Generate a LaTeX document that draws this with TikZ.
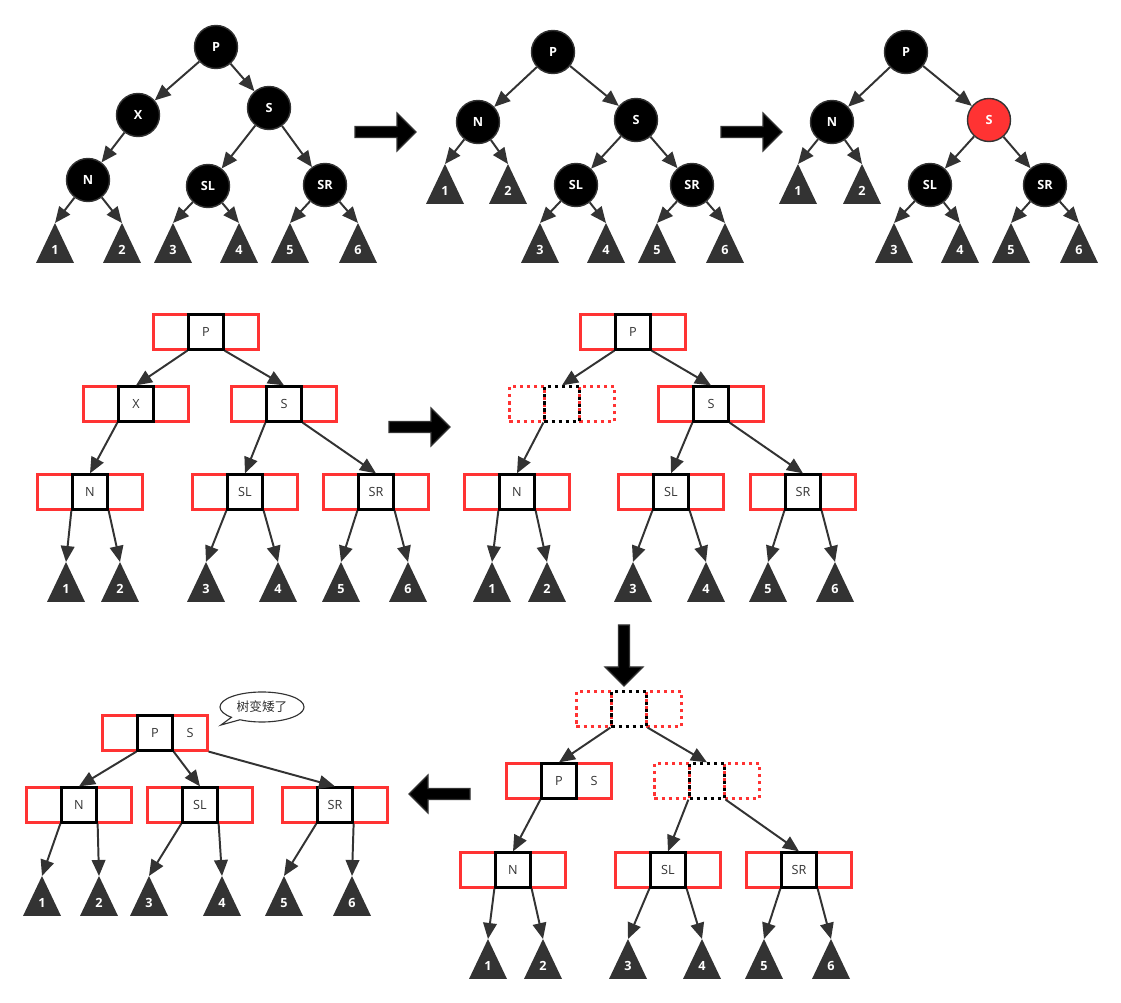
\documentclass[tikz,border=0pt]{standalone}
\usepackage{fontspec}
\setmainfont{Open Sans}
\newfontfamily\cjk{Noto Sans CJK SC}
\usetikzlibrary{arrows.meta,shapes.callouts}

\definecolor{ink}{HTML}{333333}
\definecolor{slotred}{HTML}{FF3333}

\tikzset{
  rb/.style={circle, fill=black, draw=ink, line width=1pt, minimum size=1.075cm, inner sep=0pt, text=white, font=\bfseries\small},
  redrb/.style={rb, fill=slotred},
  edge/.style={draw=ink, line width=1.4pt, -{Triangle[length=0.4cm,width=0.34cm]}},
  key/.style={draw=black, line width=1.6pt, minimum size=0.875cm, inner sep=0pt, text=ink, font=\small},
  slot/.style={draw=slotred, line width=1.5pt, minimum size=0.875cm, inner sep=0pt, text=ink, font=\small},
  gone/.style={dash pattern=on 2.5pt off 2.5pt},
  tri/.style={fill=ink},
  trilabel/.style={text=white, font=\bfseries\small, inner sep=0pt},
  blockarrow/.style={fill=black, draw=ink, line width=0.8pt},
  bigarrow/.pic={\filldraw[blockarrow] (0,-5.5) -- (42,-5.5) -- (42,-19) -- (61,0) -- (42,19) -- (42,5.5) -- (0,5.5) -- cycle;}
}

% subtree triangle: name, x, base y, label
\newcommand\subtri[4]{%
  \fill[tri] (#2-19,#3) -- (#2,#3-40) -- (#2+19,#3) -- cycle;
  \coordinate (#1) at (#2,#3-40);
  \node[trilabel] (#1n) at (#2,#3-13) {#4};
}
% 2-3 node: [style] name, x, y, key
\newcommand\kbox[5][]{%
  \node[slot,#1] (#2l) at (#3-35,#4) {};
  \node[slot,#1] (#2r) at (#3+35,#4) {};
  \node[key,#1] (#2) at (#3,#4) {#5};
}

\begin{document}
\begin{tikzpicture}[x=0.025cm, y=-0.025cm]
    \useasboundingbox (0,0) rectangle (1121,1003);

    % Tree 1
    \node[rb] (aP) at (216,47) {P};
    \node[rb] (aX) at (138,115) {X};
    \node[rb] (aS) at (269,108) {S};
    \node[rb] (aN) at (88,180) {N};
    \node[rb] (aSL) at (208,186) {SL};
    \node[rb] (aSR) at (325,185) {SR};
    \subtri{a1}{55}{263}{1}
    \subtri{a2}{122}{263}{2}
    \subtri{a3}{173}{263}{3}
    \subtri{a4}{239}{263}{4}
    \subtri{a5}{290}{263}{5}
    \subtri{a6}{358}{263}{6}
    \draw[edge] (aP) -- (aX);
    \draw[edge] (aP) -- (aS);
    \draw[edge] (aX) -- (aN);
    \draw[edge] (aS) -- (aSL);
    \draw[edge] (aS) -- (aSR);
    \draw[edge] (aN) -- (a1);
    \draw[edge] (aN) -- (a2);
    \draw[edge] (aSL) -- (a3);
    \draw[edge] (aSL) -- (a4);
    \draw[edge] (aSR) -- (a5);
    \draw[edge] (aSR) -- (a6);

    \pic at (355,132) {bigarrow};

    % Tree 2
    \node[rb] (bP) at (553,52) {P};
    \node[rb] (bN) at (478,122) {N};
    \node[rb] (bS) at (636,120) {S};
    \node[rb] (bSL) at (576,185) {SL};
    \node[rb] (bSR) at (692,185) {SR};
    \subtri{b1}{445}{204}{1}
    \subtri{b2}{508}{204}{2}
    \subtri{b3}{540}{263}{3}
    \subtri{b4}{606}{263}{4}
    \subtri{b5}{657}{263}{5}
    \subtri{b6}{725}{263}{6}
    \draw[edge] (bP) -- (bN);
    \draw[edge] (bP) -- (bS);
    \draw[edge] (bS) -- (bSL);
    \draw[edge] (bS) -- (bSR);
    \draw[edge] (bN) -- (b1);
    \draw[edge] (bN) -- (b2);
    \draw[edge] (bSL) -- (b3);
    \draw[edge] (bSL) -- (b4);
    \draw[edge] (bSR) -- (b5);
    \draw[edge] (bSR) -- (b6);

    \pic at (721,132) {bigarrow};

    % Tree 3 (S turns red)
    \node[rb] (cP) at (906,52) {P};
    \node[rb] (cN) at (832,122) {N};
    \node[redrb] (cS) at (989,120) {S};
    \node[rb] (cSL) at (930,185) {SL};
    \node[rb] (cSR) at (1045,185) {SR};
    \subtri{c1}{798}{204}{1}
    \subtri{c2}{862}{204}{2}
    \subtri{c3}{894}{263}{3}
    \subtri{c4}{960}{263}{4}
    \subtri{c5}{1011}{263}{5}
    \subtri{c6}{1079}{263}{6}
    \draw[edge] (cP) -- (cN);
    \draw[edge] (cP) -- (cS);
    \draw[edge] (cS) -- (cSL);
    \draw[edge] (cS) -- (cSR);
    \draw[edge] (cN) -- (c1);
    \draw[edge] (cN) -- (c2);
    \draw[edge] (cSL) -- (c3);
    \draw[edge] (cSL) -- (c4);
    \draw[edge] (cSR) -- (c5);
    \draw[edge] (cSR) -- (c6);

    % Tree 4 (2-3 view)
    \kbox{dP}{206}{332}{P}
    \kbox{dX}{136}{404}{X}
    \kbox{dS}{284}{404}{S}
    \kbox{dN}{90}{492}{N}
    \kbox{dSL}{245}{492}{SL}
    \kbox{dSR}{376}{492}{SR}
    \subtri{d1}{66}{602}{1}
    \subtri{d2}{120}{602}{2}
    \subtri{d3}{206}{602}{3}
    \subtri{d4}{278}{602}{4}
    \subtri{d5}{341}{602}{5}
    \subtri{d6}{408}{602}{6}
    \draw[edge] (dP.south west) -- (dX.north);
    \draw[edge] (dP.south east) -- (dS.north);
    \draw[edge] (dX.south west) -- (dN.north);
    \draw[edge] (dS.south west) -- (dSL.north);
    \draw[edge] (dS.south east) -- (dSR.north);
    \draw[edge] (dN.south west) -- (d1);
    \draw[edge] (dN.south east) -- (d2);
    \draw[edge] (dSL.south west) -- (d3);
    \draw[edge] (dSL.south east) -- (d4);
    \draw[edge] (dSR.south west) -- (d5);
    \draw[edge] (dSR.south east) -- (d6);

    \pic at (389,427) {bigarrow};

    % Tree 5
    \kbox{eP}{633}{332}{P}
    \kbox[gone]{eE}{562}{404}{}
    \kbox{eS}{711}{404}{S}
    \kbox{eN}{517}{492}{N}
    \kbox{eSL}{671}{492}{SL}
    \kbox{eSR}{803}{492}{SR}
    \subtri{e1}{492}{602}{1}
    \subtri{e2}{547}{602}{2}
    \subtri{e3}{633}{602}{3}
    \subtri{e4}{706}{602}{4}
    \subtri{e5}{768}{602}{5}
    \subtri{e6}{835}{602}{6}
    \draw[edge] (eP.south west) -- (eE.north);
    \draw[edge] (eP.south east) -- (eS.north);
    \draw[edge] (eE.south west) -- (eN.north);
    \draw[edge] (eS.south west) -- (eSL.north);
    \draw[edge] (eS.south east) -- (eSR.north);
    \draw[edge] (eN.south west) -- (e1);
    \draw[edge] (eN.south east) -- (e2);
    \draw[edge] (eSL.south west) -- (e3);
    \draw[edge] (eSL.south east) -- (e4);
    \draw[edge] (eSR.south west) -- (e5);
    \draw[edge] (eSR.south east) -- (e6);

    \pic[rotate=-90] at (624,625) {bigarrow};

    % Tree 6
    \kbox[gone]{fE}{629}{709}{}
    \kbox{fP}{559}{781}{P}
    \node[text=ink, font=\small] (fS) at (fPr) {S};
    \kbox[gone]{fF}{707}{781}{}
    \kbox{fN}{513}{870}{N}
    \kbox{fSL}{668}{870}{SL}
    \kbox{fSR}{799}{870}{SR}
    \subtri{f1}{488}{979}{1}
    \subtri{f2}{543}{979}{2}
    \subtri{f3}{628}{979}{3}
    \subtri{f4}{702}{979}{4}
    \subtri{f5}{764}{979}{5}
    \subtri{f6}{831}{979}{6}
    \draw[edge] (fE.south west) -- (fP.north);
    \draw[edge] (fE.south east) -- (fF.north);
    \draw[edge] (fP.south west) -- (fN.north);
    \draw[edge] (fF.south west) -- (fSL.north);
    \draw[edge] (fF.south east) -- (fSR.north);
    \draw[edge] (fN.south west) -- (f1);
    \draw[edge] (fN.south east) -- (f2);
    \draw[edge] (fSL.south west) -- (f3);
    \draw[edge] (fSL.south east) -- (f4);
    \draw[edge] (fSR.south west) -- (f5);
    \draw[edge] (fSR.south east) -- (f6);

    \pic[rotate=180] at (470,794) {bigarrow};

    % Tree 7
    \kbox{gP}{155}{733}{P}
    \node[text=ink, font=\small] (gS) at (gPr) {S};
    \kbox{gN}{79}{805}{N}
    \kbox{gSL}{200}{805}{SL}
    \kbox{gSR}{335}{805}{SR}
    \subtri{g1}{42}{916}{1}
    \subtri{g2}{99}{916}{2}
    \subtri{g3}{149}{916}{3}
    \subtri{g4}{222}{916}{4}
    \subtri{g5}{284}{916}{5}
    \subtri{g6}{352}{916}{6}
    \draw[edge] (gP.south west) -- (gN.north);
    \draw[edge] (gP.south east) -- (gSL.north);
    \draw[edge] (gPr.south east) -- (gSR.north);
    \draw[edge] (gN.south west) -- (g1);
    \draw[edge] (gN.south east) -- (g2);
    \draw[edge] (gSL.south west) -- (g3);
    \draw[edge] (gSL.south east) -- (g4);
    \draw[edge] (gSR.south west) -- (g5);
    \draw[edge] (gSR.south east) -- (g6);

    \node[ellipse callout, draw=ink, line width=0.8pt, fill=white, minimum width=2.1cm, minimum height=0.75cm,
          inner sep=1pt, callout absolute pointer={(221,725)}, font=\cjk\small, text=ink] (talk) at (262,707) {树变矮了};
\end{tikzpicture}
\end{document}
